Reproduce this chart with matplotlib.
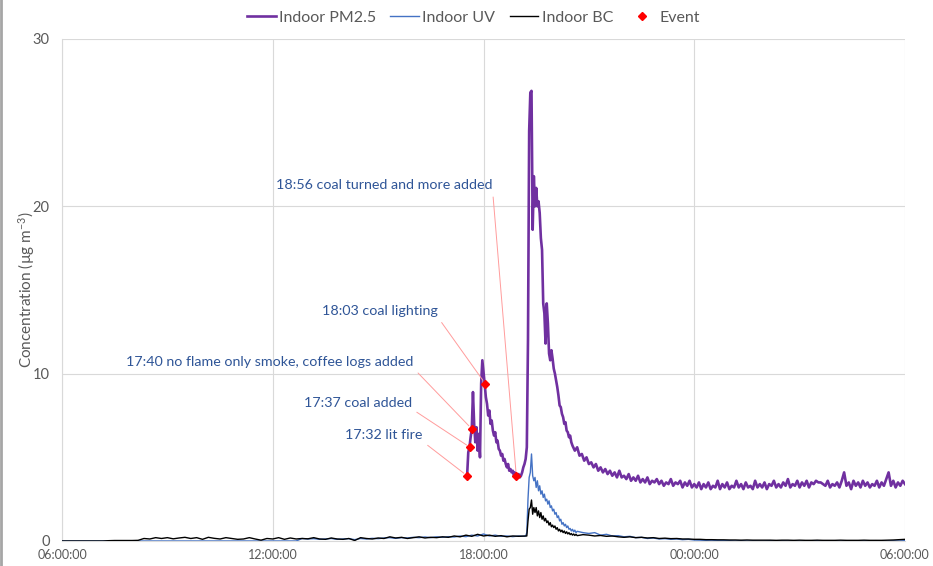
import numpy as np
import matplotlib
matplotlib.use("Agg")
import matplotlib.pyplot as plt
from matplotlib.ticker import FixedLocator, FuncFormatter
from matplotlib.lines import Line2D

plt.rcParams['font.family'] = ['Lato', 'DejaVu Sans']
plt.rcParams['mathtext.default'] = 'regular'

# ---- data ---------------------------------------------------------------
# each block: clock time of the first sample, minutes between samples, values

# indoor PM2.5 (ug/m3), fire period at 2 min resolution
pm_fast_start, pm_fast_step = "17:32", 2
pm_fast = [3.9, 5.3, 5.6, 6.2, 6.7, 8.9, 7.0, 5.9, 6.8, 5.4, 6.4, 5.0, 9.4, 10.8,
           10.1, 9.4, 8.6, 8.2, 7.5, 7.8, 7.0, 7.2, 6.6, 6.3, 6.5, 5.9, 6.0, 5.5, 5.4,
           5.1, 5.2, 4.8, 4.9, 4.6, 4.4, 4.6, 4.2, 4.3, 4.1, 4.2, 3.9, 4.1, 3.9, 3.8,
           4.0, 3.8, 3.9, 4.1, 4.4, 4.6, 4.9, 5.6, 12.0, 24.5, 26.8, 26.9, 18.6, 21.8,
           20.0, 21.1, 20.0, 20.3, 19.6, 18.1, 17.4, 14.2, 13.6, 11.8, 14.2, 13.0,
           11.2, 10.8, 11.4, 10.9,
           10.3, 10.0, 9.6, 9.2, 8.7, 8.1, 8.0, 7.6, 7.4, 7.0, 7.1, 6.6, 6.5, 6.2,
           6.3, 5.9, 5.7]

# indoor PM2.5 overnight at 4 min resolution
pm_slow_start, pm_slow_step = "20:36", 4
pm_slow = [5.4, 5.6, 5.1, 5.2, 4.8, 5.0,
           4.6, 4.7, 4.4, 4.6, 4.2, 4.4, 4.1, 4.3, 4.0, 4.2, 3.9, 4.1, 3.8, 4.2, 3.8,
           3.9, 3.7, 4.0, 3.6, 3.8, 3.6, 3.9, 3.5, 3.7, 3.5, 3.8, 3.4, 3.6, 3.5, 3.7,
           3.4, 3.6, 3.3, 3.5, 3.4, 3.7, 3.3, 3.5, 3.4, 3.6, 3.2, 3.5, 3.3, 3.6, 3.2,
           3.4,
           3.2, 3.5, 3.1, 3.4, 3.2, 3.5, 3.1, 3.3, 3.2, 3.6, 3.1, 3.4, 3.2, 3.5, 3.1,
           3.3, 3.2, 3.6, 3.2, 3.4, 3.1, 3.5, 3.2, 3.3, 3.1, 3.6, 3.2, 3.4, 3.2, 3.5,
           3.1, 3.4, 3.3, 3.6, 3.2, 3.4, 3.2, 3.5, 3.3, 3.7, 3.2, 3.4, 3.3, 3.6, 3.2,
           3.5, 3.3, 3.6, 3.2, 3.5, 3.4, 3.6, 3.5, 3.5, 3.4, 3.3, 3.6, 3.2, 3.4, 3.3,
           3.5, 3.2, 3.6, 4.1, 3.3, 3.5, 3.1, 3.6, 3.3, 3.5, 3.2, 3.6, 3.3, 3.5, 3.2,
           3.4, 3.3, 3.6, 3.2, 3.5, 3.3, 3.7, 4.1, 3.3, 3.6, 3.2, 3.5, 3.3, 3.6, 3.4]

# aethalometer UV and BC, daytime at 10 min resolution
aeth_day_start, aeth_day_step = "06:00", 10
uv_day = [0.0, 0.0, 0.0, 0.0, 0.0, 0.0,
          0.0, 0.0, 0.0, 0.0, 0.0, 0.0,
          0.0, 0.0, 0.0, 0.0, 0.0, 0.0,
          0.0, 0.0, 0.0, 0.0, 0.0, 0.0,
          0.0, 0.0, 0.0, 0.0, 0.0, 0.0,
          0.0, 0.0, 0.0, 0.0, 0.0, 0.0,
          0.0, 0.0, 0.0, 0.0, 0.0, 0.15,
          0.12, 0.14, 0.1, 0.12, 0.15, 0.1,
          0.12, 0.14, 0.08, 0.15, 0.12, 0.16,
          0.14, 0.18, 0.2, 0.16, 0.2, 0.18,
          0.22, 0.2, 0.24, 0.2, 0.25, 0.22,
          0.26, 0.24, 0.3, 0.26, 0.35, 0.3,
          0.42, 0.3, 0.35, 0.28, 0.3, 0.26,
          0.3, 0.28]
bc_day = [0.0, 0.0, 0.0, 0.0, 0.0, 0.0,
          0.0, 0.0, 0.02, 0.03, 0.03, 0.03,
          0.03, 0.04, 0.15, 0.12, 0.2, 0.15,
          0.2, 0.13, 0.18, 0.22, 0.15, 0.2,
          0.1, 0.22, 0.16, 0.12, 0.2, 0.15,
          0.1, 0.12, 0.2, 0.12, 0.05, 0.15,
          0.12, 0.2, 0.1, 0.18, 0.12, 0.15,
          0.13, 0.2, 0.12, 0.1, 0.18, 0.12,
          0.1, 0.15, 0.03, 0.2, 0.15, 0.12,
          0.18, 0.15, 0.25, 0.18, 0.22, 0.15,
          0.2, 0.25, 0.18, 0.22, 0.2, 0.25,
          0.22, 0.3, 0.25, 0.35, 0.28, 0.4,
          0.3, 0.35, 0.28, 0.32, 0.25, 0.3,
          0.28, 0.3]

# aethalometer during the fire, 2 min resolution
aeth_peak_start, aeth_peak_step = "19:12", 2
uv_peak = [0.3, 0.5, 2.5, 3.8, 4.1, 5.2, 3.9, 3.6, 3.8, 3.2, 3.6, 3.0, 3.3, 2.8,
           3.0, 2.6, 2.8, 2.4, 2.5, 2.2, 2.4, 2.0, 2.1, 1.8, 1.9, 1.6, 1.7, 1.4,
           1.5, 1.2, 1.3, 1.0, 1.1, 0.9, 1.0, 0.8, 0.9, 0.7, 0.75, 0.6, 0.7, 0.55,
           0.65, 0.5, 0.58]
bc_peak = [0.3, 0.3, 1.2, 1.9, 2.0, 2.45, 1.6, 2.0, 1.7, 2.0, 1.5, 1.8, 1.4, 1.7,
           1.3, 1.5, 1.2, 1.35, 1.1, 1.2, 0.95, 1.1, 0.85, 0.95, 0.8, 0.9, 0.7, 0.8,
           0.6, 0.7, 0.55, 0.65, 0.5, 0.6, 0.45, 0.55, 0.42, 0.5, 0.38, 0.45, 0.35,
           0.42, 0.33, 0.4, 0.32]

# aethalometer overnight, 10 min resolution
aeth_night_start, aeth_night_step = "20:50", 10
uv_night = [0.5,
            0.45, 0.5, 0.35, 0.4, 0.3, 0.32,
            0.25, 0.28, 0.2, 0.22, 0.15, 0.18,
            0.12, 0.14, 0.1, 0.12, 0.08, 0.1,
            0.06, 0.05, 0.04, 0.05, 0.03, 0.02,
            0.02, 0.0, 0.02, 0.0, 0.01, 0.0,
            0.0, 0.02, 0.0, 0.01, 0.0, 0.02,
            0.0, 0.01, 0.0, 0.02, 0.0, 0.0,
            0.01, 0.0, 0.02, 0.0, 0.0, 0.01,
            0.0, 0.02, 0.0, 0.0, 0.01, 0.0,
            0.02]
bc_night = [0.38,
            0.35, 0.3, 0.33, 0.28, 0.3, 0.25,
            0.22, 0.25, 0.2, 0.22, 0.18, 0.2,
            0.15, 0.17, 0.14, 0.15, 0.12, 0.12,
            0.1, 0.1, 0.08, 0.08, 0.07, 0.07,
            0.06, 0.06, 0.05, 0.06, 0.05, 0.05,
            0.05, 0.05, 0.04, 0.05, 0.05, 0.04,
            0.05, 0.04, 0.04, 0.05, 0.04, 0.04,
            0.04, 0.05, 0.04, 0.04, 0.04, 0.05,
            0.04, 0.04, 0.04, 0.05, 0.06, 0.08,
            0.1]

# logged events
event_times = ["17:32", "17:37", "17:40", "18:03", "18:56"]
event_values = [3.9, 5.6, 6.7, 9.4, 3.9]
event_labels = ["17:32 lit fire",
                "17:37 coal added",
                "17:40 no flame only smoke, coffee logs added",
                "18:03 coal lighting",
                "18:56 coal turned and more added"]

x_ticks = ["06:00:00", "12:00:00", "18:00:00", "00:00:00", "06:00:00"]


# ---- helpers ------------------------------------------------------------
def clock_to_hours(s):
    """hours since 06:00, wrapping past midnight"""
    h, m = (int(v) for v in s.split(":"))
    return ((h * 60 + m - 360) % 1440) / 60.0


def sample_hours(start, step, n):
    return clock_to_hours(start) + np.arange(n) * step / 60.0


pm_t = np.concatenate([sample_hours(pm_fast_start, pm_fast_step, len(pm_fast)),
                       sample_hours(pm_slow_start, pm_slow_step, len(pm_slow))])
pm_v = np.array(pm_fast + pm_slow)

aeth_t = np.concatenate([sample_hours(aeth_day_start, aeth_day_step, len(uv_day)),
                         sample_hours(aeth_peak_start, aeth_peak_step, len(uv_peak)),
                         sample_hours(aeth_night_start, aeth_night_step, len(uv_night))])
# last sample is 06:00 the next morning
aeth_t[-1] = 24.0
pm_t[-1] = 24.0
uv_v = np.array(uv_day + uv_peak + uv_night)
bc_v = np.array(bc_day + bc_peak + bc_night)

ev_t = np.array([clock_to_hours(t) for t in event_times])

# ---- figure -------------------------------------------------------------
fig = plt.figure(figsize=(9.33, 5.66), dpi=100)
ax = fig.add_axes([62 / 933, 25 / 566, 843 / 933, 502 / 566])

grey = '#595959'
grid = '#D9D9D9'

ax.plot(pm_t, pm_v, color='#7030A0', lw=1.9, label='Indoor PM2.5', zorder=3)
ax.plot(aeth_t, uv_v, color='#4472C4', lw=1.0, label='Indoor UV', zorder=3)
ax.plot(aeth_t, bc_v, color='black', lw=1.0, label='Indoor BC', zorder=3)
ax.plot(ev_t, event_values, 'D', color='red', ms=4, lw=0, label='Event', zorder=5)

# label offsets (points) from each event marker
offsets = [(-32, 29), (-42, 32), (-42, 48), (-34, 52), (-17, 209)]
for t, v, lab, off in zip(ev_t, event_values, event_labels, offsets):
    ax.annotate(lab, xy=(t, v), xytext=off, textcoords='offset points',
                ha='right', va='center', color='#2F5597', fontsize=10.3,
                arrowprops=dict(arrowstyle='-', color='#FF9C9C', lw=0.7,
                                shrinkA=2, shrinkB=3, relpos=(1.0, 0.0)),
                zorder=4)

ax.set_xlim(0, 24)
ax.set_ylim(0, 30)
ax.xaxis.set_major_locator(FixedLocator([0, 6, 12, 18, 24]))
ax.xaxis.set_major_formatter(FuncFormatter(lambda x, pos: x_ticks[int(round(x / 6))]))
ax.set_yticks([0, 10, 20, 30])
ax.grid(True, color=grid, lw=0.8)
ax.set_axisbelow(True)
ax.tick_params(length=0, colors=grey)
ax.tick_params(axis='y', pad=9, labelsize=10.5)
ax.tick_params(axis='x', pad=6, labelsize=9)
for side in ['top', 'right']:
    ax.spines[side].set_visible(False)
for side in ['left', 'bottom']:
    ax.spines[side].set_color(grid)
    ax.spines[side].set_linewidth(0.8)

fig.text(27 / 933, 1 - 290 / 566, 'Concentration (µg m$^{-3}$)', rotation=90,
         ha='center', va='center', color=grey, fontsize=11)

ax.legend(loc='lower center', bbox_to_anchor=(0.488, 1.016), ncol=4, frameon=False,
          fontsize=11.5, labelcolor=grey, handlelength=1.8, handletextpad=0.2,
          columnspacing=0.9, borderaxespad=0)

# thin frame line at the left edge of the image
fig.add_artist(Line2D([0.0015, 0.0015], [0, 1], color='#A6A6A6', lw=2,
                      transform=fig.transFigure))

fig.savefig('out.png', dpi=100)
